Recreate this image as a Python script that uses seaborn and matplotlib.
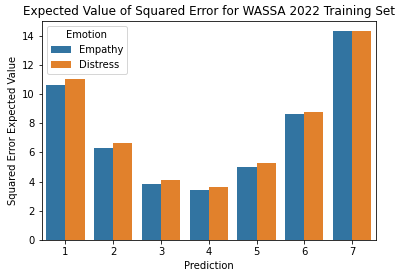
import matplotlib
matplotlib.use("Agg")
import matplotlib.pyplot as plt
import seaborn as sns
import pandas as pd

predictions = [1, 2, 3, 4, 5, 6, 7]
empathy = [10.62, 6.28, 3.86, 3.45, 5.03, 8.62, 14.28]
distress = [11.03, 6.62, 4.14, 3.66, 5.24, 8.76, 14.28]
emotions = ["Empathy", "Distress"]

df = pd.DataFrame({
    "Prediction": predictions * 2,
    "Squared Error Expected Value": empathy + distress,
    "Emotion": [emotions[0]] * len(predictions) + [emotions[1]] * len(predictions),
})

fig = plt.figure(figsize=(401 / 72, 278 / 72), dpi=72)
ax = fig.add_axes([41.5 / 401, 1 - 240 / 278, (376 - 41.5) / 401, (240 - 21) / 278])
sns.barplot(data=df, x="Prediction", y="Squared Error Expected Value", hue="Emotion", ax=ax)
ax.set_title("Expected Value of Squared Error for WASSA 2022 Training Set")
ax.legend(title="Emotion", loc="upper left")
fig.savefig("out.png", dpi=72)
